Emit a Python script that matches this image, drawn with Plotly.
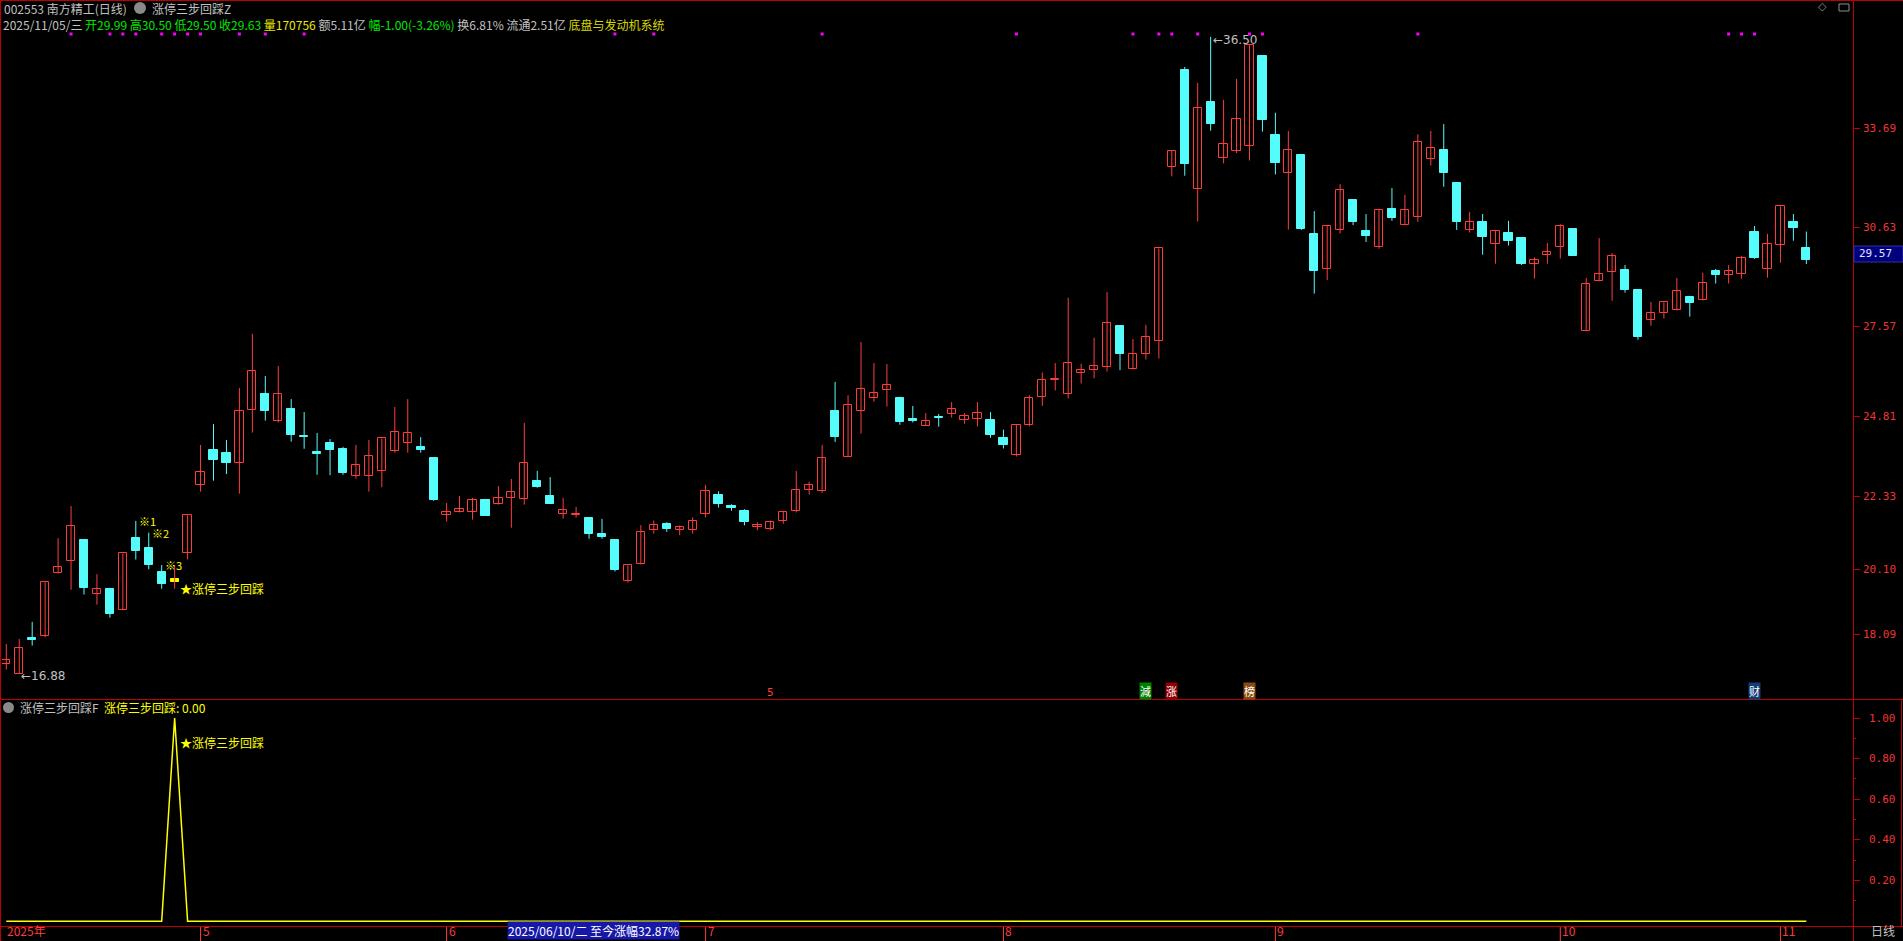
import plotly.graph_objects as go

W, H = 1903, 941

# ---------------- data ----------------
opens = [17.17, 16.88, 17.98, 18.05, 19.97, 20.35, 21.00, 19.33, 19.49, 18.84,
         21.06, 20.76, 20.02, 19.70, 20.61, 22.68, 23.77, 23.68, 23.36, 24.99,
         25.50, 24.66, 25.04, 24.19, 23.70, 23.99, 23.80, 22.98, 22.98, 23.14,
         23.75, 24.00, 23.87, 23.53, 21.78, 21.85, 21.85, 22.23, 22.12, 22.29,
         22.25, 22.82, 22.36, 21.79, 21.76, 21.68, 21.19, 21.00, 19.73, 20.25,
         21.30, 21.50, 21.30, 21.30, 21.80, 22.40, 22.05, 21.90, 21.40, 21.35,
         21.60, 21.90, 22.55, 22.50, 24.97, 23.55, 24.96, 25.37, 25.61, 25.38,
         24.72, 24.52, 24.79, 24.87, 24.69, 24.73, 24.70, 24.14, 23.63, 24.53,
         25.40, 25.92, 25.49, 26.16, 26.23, 26.32, 27.59, 26.28, 26.72, 27.12,
         32.48, 35.48, 31.81, 34.49, 32.78, 32.97, 33.14, 35.91, 33.48, 32.30,
         32.86, 30.43, 29.36, 30.56, 31.47, 30.52, 30.03, 31.19, 30.71, 30.96,
         32.74, 33.01, 31.99, 30.54, 30.79, 30.13, 30.46, 30.30, 29.49, 29.77,
         30.02, 30.58, 27.43, 28.97, 29.25, 29.32, 28.70, 27.77, 27.98, 28.07,
         28.49, 28.38, 29.29, 29.15, 29.18, 30.49, 29.34, 30.08, 30.79, 29.99]
highs = [17.80, 17.95, 18.48, 19.70, 21.06, 22.05, 21.00, 19.95, 19.53, 20.59,
         21.59, 21.23, 20.23, 20.23, 21.76, 23.93, 24.57, 24.08, 25.68, 27.35,
         26.05, 26.36, 25.34, 24.94, 24.30, 24.11, 23.87, 23.93, 24.08, 24.13,
         25.10, 25.34, 24.17, 23.53, 22.14, 22.36, 22.30, 22.23, 22.66, 22.88,
         24.61, 23.13, 22.94, 22.30, 22.02, 21.71, 21.65, 21.03, 20.22, 21.46,
         21.60, 21.55, 21.45, 21.70, 22.70, 22.50, 22.10, 21.95, 21.55, 21.60,
         21.90, 23.13, 22.80, 23.93, 25.87, 25.46, 27.10, 26.45, 26.42, 25.41,
         25.13, 24.91, 24.88, 25.25, 24.91, 25.25, 24.94, 24.40, 24.54, 25.46,
         26.16, 26.45, 28.46, 26.43, 27.23, 28.64, 27.59, 27.19, 27.63, 29.98,
         32.98, 35.57, 35.08, 36.50, 34.56, 35.20, 36.24, 35.91, 34.16, 33.60,
         32.86, 31.13, 30.69, 31.96, 31.47, 31.04, 31.20, 31.84, 31.63, 33.50,
         33.60, 33.81, 31.99, 31.10, 31.04, 30.54, 30.83, 30.30, 29.71, 30.15,
         30.73, 30.58, 29.07, 30.30, 29.84, 29.47, 28.73, 28.33, 28.32, 29.07,
         28.52, 29.23, 29.35, 29.47, 29.75, 30.67, 30.43, 31.28, 31.04, 30.50]
lows = [17.01, 16.88, 17.75, 18.00, 19.97, 19.47, 19.32, 19.01, 18.61, 18.84,
        20.40, 20.10, 19.50, 19.50, 20.40, 22.49, 22.83, 23.03, 22.43, 24.31,
        24.68, 24.62, 24.03, 23.81, 23.01, 23.00, 23.01, 22.89, 22.49, 22.63,
        23.69, 23.69, 23.69, 22.21, 21.57, 21.85, 21.63, 21.75, 22.09, 21.38,
        22.09, 22.61, 22.12, 21.66, 21.69, 21.04, 21.04, 20.03, 19.69, 20.25,
        21.20, 21.25, 21.15, 21.20, 21.70, 22.00, 21.90, 21.45, 21.30, 21.30,
        21.50, 21.85, 22.40, 22.45, 24.02, 23.55, 24.28, 25.26, 25.11, 24.55,
        24.62, 24.52, 24.49, 24.77, 24.58, 24.50, 24.15, 23.82, 23.57, 24.50,
        25.13, 25.61, 25.36, 25.82, 25.98, 26.19, 26.23, 26.25, 26.56, 26.59,
        32.20, 32.22, 30.81, 33.61, 32.60, 32.92, 32.69, 33.58, 32.26, 30.56,
        30.55, 28.59, 29.01, 30.44, 30.70, 30.18, 29.97, 30.83, 30.71, 30.80,
        32.53, 31.88, 30.55, 30.47, 29.79, 29.51, 30.07, 29.47, 29.05, 29.51,
        29.67, 29.76, 27.43, 28.97, 28.37, 28.62, 27.17, 27.60, 27.82, 28.07,
        27.88, 28.38, 28.90, 28.90, 29.05, 29.66, 29.08, 29.54, 30.22, 29.50]
closes = [17.30, 17.67, 17.92, 19.70, 20.16, 21.42, 19.53, 19.48, 18.73, 20.59,
          20.67, 20.24, 19.66, 19.80, 21.76, 23.09, 23.48, 23.38, 24.96, 26.20,
          24.98, 25.49, 24.22, 24.17, 23.66, 23.78, 23.08, 23.30, 23.58, 24.13,
          24.32, 24.29, 23.78, 22.24, 21.85, 21.95, 22.22, 21.75, 22.29, 22.47,
          23.36, 22.64, 22.12, 21.92, 21.79, 21.20, 21.10, 20.09, 20.22, 21.24,
          21.45, 21.35, 21.40, 21.60, 22.50, 22.10, 22.00, 21.55, 21.45, 21.55,
          21.85, 22.55, 22.70, 23.52, 24.18, 25.15, 25.64, 25.52, 25.77, 24.65,
          24.68, 24.66, 24.75, 25.03, 24.81, 24.90, 24.25, 23.92, 24.54, 25.37,
          25.93, 25.94, 26.44, 26.24, 26.36, 27.68, 26.72, 26.73, 27.25, 29.98,
          32.98, 32.57, 34.32, 33.80, 33.21, 33.98, 36.24, 33.94, 32.62, 33.00,
          30.58, 29.29, 30.66, 31.77, 30.79, 30.36, 31.18, 30.93, 31.18, 33.25,
          33.06, 32.31, 30.80, 30.78, 30.34, 30.51, 30.22, 29.50, 29.64, 29.86,
          30.66, 29.76, 28.88, 29.18, 29.74, 28.71, 27.26, 27.98, 28.32, 28.66,
          28.31, 28.91, 29.17, 29.28, 29.68, 29.70, 30.11, 31.28, 30.62, 29.63]

# indicator 涨停三步回踩F (one spike)
signal = [0, 0, 0, 0, 0, 0, 0, 0, 0, 0, 0, 0, 0, 1, 0, 0, 0, 0, 0, 0,
          0, 0, 0, 0, 0, 0, 0, 0, 0, 0, 0, 0, 0, 0, 0, 0, 0, 0, 0, 0,
          0, 0, 0, 0, 0, 0, 0, 0, 0, 0, 0, 0, 0, 0, 0, 0, 0, 0, 0, 0,
          0, 0, 0, 0, 0, 0, 0, 0, 0, 0, 0, 0, 0, 0, 0, 0, 0, 0, 0, 0,
          0, 0, 0, 0, 0, 0, 0, 0, 0, 0, 0, 0, 0, 0, 0, 0, 0, 0, 0, 0,
          0, 0, 0, 0, 0, 0, 0, 0, 0, 0, 0, 0, 0, 0, 0, 0, 0, 0, 0, 0,
          0, 0, 0, 0, 0, 0, 0, 0, 0, 0, 0, 0, 0, 0, 0, 0, 0, 0, 0, 0]
signal_day = 13
step_days = [10, 11, 12]
step_labels = ["※1", "※2", "※3"]

marker_days = [5, 8, 9, 10, 12, 13, 14, 15, 18, 20, 23, 47, 50, 63, 78, 87, 89,
               90, 92, 96, 97, 109, 133, 134, 135]

month_starts = [0, 15, 34, 54, 77, 98, 120, 137]
month_labels = ["2025年", "5", "6", "7", "8", "9", "10", "11"]

price_ticks = [33.69, 30.63, 27.57, 24.81, 22.33, 20.10, 18.09]
price_tick_labels = ["33.69", "30.63", "27.57", "24.81", "22.33", "20.10", "18.09"]
ind_ticks = [1.00, 0.80, 0.60, 0.40, 0.20]
ind_tick_labels = ["1.00", "0.80", "0.60", "0.40", "0.20"]
ind_minor = [0.9, 0.7, 0.5, 0.3, 0.1]

event_days = [59, 88, 90, 96, 135]
event_labels = ["5", "減", "涨", "榜", "财"]

low_day, low_value = 1, 16.88
high_day, high_value = 93, 36.50
last_price_label = "29.57"

# ---------------- style ----------------
RED = "#FF3C3C"
CYAN = "#54FCFC"
FRAME = "#C00000"
AXTXT = "#F03434"
GRAY = "#C0C0C0"
GREEN = "#00E600"
YEL = "#FFFF00"
CJK = "Noto Sans CJK SC"
MONO = "DejaVu Sans Mono"

n = len(opens)
idx = list(range(n))

def fx(x):
    return x / W

def fy(y):
    return 1 - y / H

# candle geometry in pixels -> axis ranges
X0_PX, DX_PX = 6.3, 12.95
PLOT_L, PLOT_R = 2, 1853
x_range = [(PLOT_L - X0_PX) / DX_PX, (PLOT_R - X0_PX) / DX_PX]

P_REF, P_REF_PX, P_SCALE = 33.69, 128.0, 32.47
PRICE_TOP, PRICE_BOT = 2, 699
y_range = [P_REF - (PRICE_BOT - P_REF_PX) / P_SCALE, P_REF + (P_REF_PX - PRICE_TOP) / P_SCALE]

IND_TOP, IND_BOT = 701, 926
I_ZERO_PX, I_SCALE = 921.25, 203.25
y2_range = [-(IND_BOT - I_ZERO_PX) / I_SCALE, (I_ZERO_PX - IND_TOP) / I_SCALE]

fig = go.Figure()

# wicks
def wick_xy(sel):
    xs, ys = [], []
    for i in sel:
        xs += [i, i, None]
        ys += [lows[i], highs[i], None]
    return xs, ys

up = [i for i in idx if closes[i] >= opens[i] and i != signal_day]
dn = [i for i in idx if closes[i] < opens[i] and i != signal_day]

for sel, col in ((up + [signal_day], RED), (dn, CYAN)):
    xs, ys = wick_xy(sel)
    fig.add_trace(go.Scatter(x=xs, y=ys, mode="lines", line=dict(color=col, width=1),
                             hoverinfo="skip", showlegend=False, xaxis="x", yaxis="y"))

MIN_BODY = 0.035
def body(sel):
    base = [min(opens[i], closes[i]) for i in sel]
    hgt = [max(abs(closes[i] - opens[i]), MIN_BODY) for i in sel]
    return base, hgt

BW = 0.64
b, h = body(up)
fig.add_trace(go.Bar(x=up, y=h, base=b, width=BW, marker=dict(color="#000000", line=dict(color=RED, width=1)),
                     hoverinfo="skip", showlegend=False, xaxis="x", yaxis="y"))
b, h = body(dn)
fig.add_trace(go.Bar(x=dn, y=h, base=b, width=BW, marker=dict(color=CYAN, line=dict(color=CYAN, width=1)),
                     hoverinfo="skip", showlegend=False, xaxis="x", yaxis="y"))
b, h = body([signal_day])
fig.add_trace(go.Bar(x=[signal_day], y=h, base=b, width=BW, marker=dict(color=YEL, line=dict(color=YEL, width=1)),
                     hoverinfo="skip", showlegend=False, xaxis="x", yaxis="y"))

# magenta signal dots row
DOT_Y = P_REF + (P_REF_PX - 34) / P_SCALE
fig.add_trace(go.Scatter(x=marker_days, y=[DOT_Y] * len(marker_days), mode="markers",
                         marker=dict(symbol="square", size=3, color="#FF00FF", line=dict(width=0)),
                         hoverinfo="skip", showlegend=False, xaxis="x", yaxis="y"))

# indicator line
fig.add_trace(go.Scatter(x=idx, y=signal, mode="lines", line=dict(color=YEL, width=1.5),
                         hoverinfo="skip", showlegend=False, xaxis="x2", yaxis="y2"))

annotations = []
shapes = []

def ann(x, y, text, color, size=12, xanchor="left", yanchor="middle", xref="paper", yref="paper",
        family=CJK, **kw):
    if xref == "paper":
        x = fx(x)
    if yref == "paper":
        y = fy(y)
    annotations.append(dict(x=x, y=y, xref=xref, yref=yref, text=text, showarrow=False,
                            xanchor=xanchor, yanchor=yanchor,
                            font=dict(color=color, size=size, family=family), **kw))

def line(x0, y0, x1, y1, color=FRAME, width=1, xref="paper", yref="paper"):
    if xref == "paper":
        x0, x1 = fx(x0), fx(x1)
    if yref == "paper":
        y0, y1 = fy(y0), fy(y1)
    shapes.append(dict(type="line", x0=x0, y0=y0, x1=x1, y1=y1, xref=xref, yref=yref,
                       line=dict(color=color, width=width)))

# frame
line(0, 0.5, W, 0.5)
line(0.5, 0, 0.5, H)
line(0, 699.5, W, 699.5)
line(0, 926.5, W, 926.5)
line(1853.5, 0, 1853.5, H)
line(1901.5, 699.5, 1901.5, 926.5)

# header
ann(2, 8, "002553 南方精工(日线)", GRAY)
shapes.append(dict(type="circle", xref="paper", yref="paper", x0=fx(134), x1=fx(146), y0=fy(14), y1=fy(2),
                   fillcolor="#8A8A8A", line=dict(width=0)))
ann(150, 8, "涨停三步回踩Z", GRAY)
hdr = ("<span style='color:%s'>2025/11/05/三</span> "
       "<span style='color:%s'>开29.99 高30.50 低29.50 收29.63</span> "
       "<span style='color:%s'>量170756</span> "
       "<span style='color:%s'>额5.11亿</span> "
       "<span style='color:%s'>幅-1.00(-3.26%%)</span> "
       "<span style='color:%s'>换6.81%% 流通2.51亿</span> "
       "<span style='color:%s'>底盘与发动机系统</span>") % (GRAY, GREEN, "#E8E800", GRAY, GREEN, GRAY, "#D8D800")
ann(1, 24, hdr, GRAY)
ann(1822, 7, "◇", "#909090", size=11, xanchor="center", family="DejaVu Sans")
shapes.append(dict(type="rect", xref="paper", yref="paper", x0=fx(1839), x1=fx(1849), y0=fy(11), y1=fy(4),
                   fillcolor="rgba(0,0,0,0)", line=dict(color="#909090", width=1)))

# price axis labels
for v, t in zip(price_ticks, price_tick_labels):
    ann(1898, v, t, AXTXT, size=11, xanchor="right", yref="y", family=MONO)
shapes.append(dict(type="rect", xref="paper", yref="paper", x0=fx(1854), x1=fx(1903), y0=fy(262), y1=fy(246),
                   fillcolor="#00007F", line=dict(color="#3030A0", width=1)))
ann(1857, 254, last_price_label, "#E0E0FF", size=11, family=MONO)

# indicator axis labels
for v, t in zip(ind_ticks, ind_tick_labels):
    ann(1898, v, t, AXTXT, size=11, xanchor="right", yref="y2", family=MONO)

# indicator header
shapes.append(dict(type="circle", xref="paper", yref="paper", x0=fx(3), x1=fx(14), y0=fy(713), y1=fy(702),
                   fillcolor="#8A8A8A", line=dict(width=0)))
ann(18, 707, "涨停三步回踩F", GRAY)
ann(102, 707, "涨停三步回踩: 0.00", YEL)

# step labels and signal label
for d, t in zip(step_days, step_labels):
    ann(d, highs[d], t, YEL, size=11, yref="y", xref="x", xshift=1)
ann(signal_day, lows[signal_day], "★涨停三步回踩", YEL, size=12, xref="x", yref="y", xshift=3)
ann(signal_day, signal[signal_day], "★涨停三步回踩", YEL, size=12, xref="x", yref="y2", xshift=3, yshift=-24)

# extreme labels
ann(low_day, low_value, "←%.2f" % low_value, GRAY, size=12, xref="x", yref="y", family="DejaVu Sans", yshift=-2)
ann(high_day, high_value, "←%.2f" % high_value, GRAY, size=12, xref="x", yref="y", family="DejaVu Sans", yshift=-3)

# event boxes at bottom of price pane
ev_bg = {"5": None, "減": "#008000", "涨": "#900000", "榜": "#8B4A10", "财": "#103C78"}
for d, t in zip(event_days, event_labels):
    bg = ev_bg[t]
    if bg is None:
        ann(d, 692, t, RED, size=11, xref="x", xanchor="center", family=MONO)
    else:
        ann(d, 691, t, "#FFFFFF", size=11, xref="x", xanchor="center", bgcolor=bg, borderpad=0)

# month ticks and labels (bottom row 927..941)
for d, t in zip(month_starts, month_labels):
    if d > 0:
        shapes.append(dict(type="line", xref="x", yref="paper", x0=d, x1=d, y0=fy(927), y1=fy(941),
                           line=dict(color=RED, width=1)))
    ann(d, 940, t, RED, size=12, xref="x", yanchor="bottom", xshift=1 if d > 0 else 0, borderpad=0)
ann(1870, 940, "日线", GRAY, size=12, yanchor="bottom", borderpad=0)

# crosshair date box
ann(39, 940, "2025/06/10/二 至今涨幅32.87%", "#FFFFFF", size=12, xref="x", yanchor="bottom", xshift=-4,
    bgcolor="#1818A8", borderpad=0)

fig.update_layout(
    width=W, height=H, margin=dict(l=0, r=0, t=0, b=0),
    paper_bgcolor="#000000", plot_bgcolor="#000000",
    barmode="overlay", bargap=0, showlegend=False,
    xaxis=dict(domain=[fx(PLOT_L), fx(PLOT_R)], range=x_range, showgrid=False, zeroline=False,
               showticklabels=False, showline=False, ticks="", anchor="y", fixedrange=True),
    xaxis2=dict(domain=[fx(PLOT_L), fx(PLOT_R)], range=x_range, showgrid=False, zeroline=False,
                showticklabels=False, showline=False, ticks="", anchor="y2", matches="x", fixedrange=True),
    yaxis=dict(domain=[fy(PRICE_BOT), fy(PRICE_TOP)], range=y_range, side="right", anchor="x",
               showgrid=False, zeroline=False, showticklabels=False, tickmode="array", tickvals=price_ticks,
               ticks="outside", ticklen=6, tickcolor=FRAME, showline=False, fixedrange=True),
    yaxis2=dict(domain=[fy(IND_BOT), fy(IND_TOP)], range=y2_range, side="right", anchor="x2",
                showgrid=False, zeroline=False, showticklabels=False, tickmode="array", tickvals=ind_ticks,
                ticks="outside", ticklen=6, tickcolor=FRAME, showline=False, fixedrange=True,
                minor=dict(tickmode="array", tickvals=ind_minor, ticks="outside", ticklen=2, tickcolor=FRAME)),
    annotations=annotations, shapes=shapes,
)

fig.write_html("out.html", config={"displayModeBar": False},
               post_script="document.body.style.margin='0';document.body.style.background='#000';"
                           "document.body.style.overflow='hidden';")
